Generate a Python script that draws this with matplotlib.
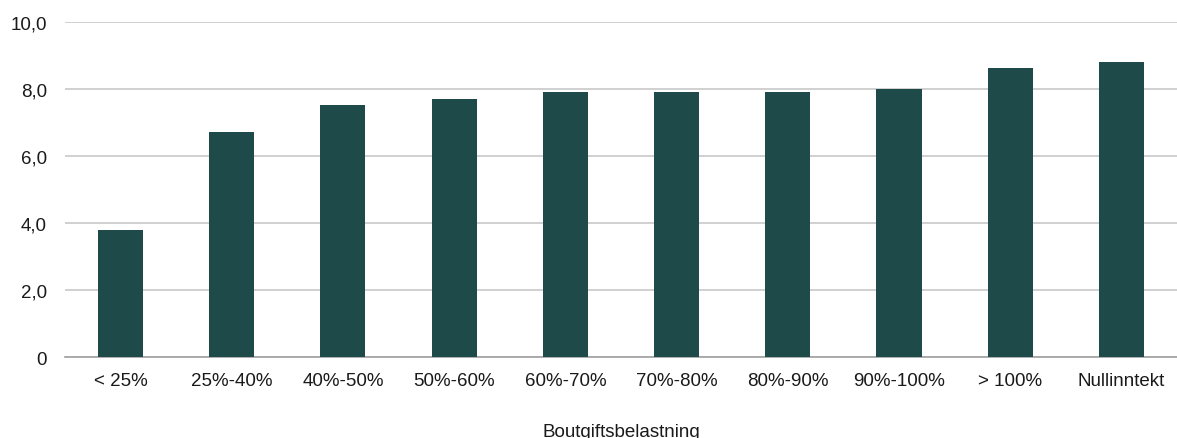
import matplotlib
matplotlib.use("Agg")
import matplotlib.pyplot as plt
from matplotlib.ticker import FuncFormatter

categories = ["< 25%", "25%-40%", "40%-50%", "50%-60%", "60%-70%",
              "70%-80%", "80%-90%", "90%-100%", "> 100%", "Nullinntekt"]
values = [3.8, 6.7, 7.5, 7.7, 7.9, 7.9, 7.9, 8.0, 8.6, 8.8]
y_ticks = [0, 2, 4, 6, 8, 10]

plt.rcParams["font.family"] = ["Liberation Sans", "DejaVu Sans"]

fig = plt.figure(figsize=(11.77, 4.39), dpi=100)
ax = fig.add_axes([0.0552, 0.1845, 0.9448, 0.7642])

x = list(range(len(categories)))
ax.bar(x, values, width=0.405, color="#1f4a4a", zorder=3)

ax.set_xlim(-0.5, len(categories) - 0.5)
ax.set_ylim(0, 10)
ax.set_yticks(y_ticks)
ax.yaxis.set_major_formatter(FuncFormatter(lambda v, p: "0" if v == 0 else f"{v:.1f}".replace(".", ",")))
ax.set_xticks(x)
ax.set_xticklabels(categories)

ax.grid(axis="y", color="#c8c8c8", linewidth=1.2, zorder=0)
for s in ["top", "right", "left"]:
    ax.spines[s].set_visible(False)
ax.spines["bottom"].set_color("#a0a0a0")
ax.spines["bottom"].set_linewidth(1.2)
ax.tick_params(axis="both", length=0, labelsize=13.5, colors="#1a1a1a")
ax.tick_params(axis="x", pad=11)
ax.tick_params(axis="y", pad=13)

ax.set_xlabel("Boutgiftsbelastning", fontsize=13.5, color="#1a1a1a", labelpad=24)

fig.savefig("out.png", dpi=100)
plt.close(fig)
